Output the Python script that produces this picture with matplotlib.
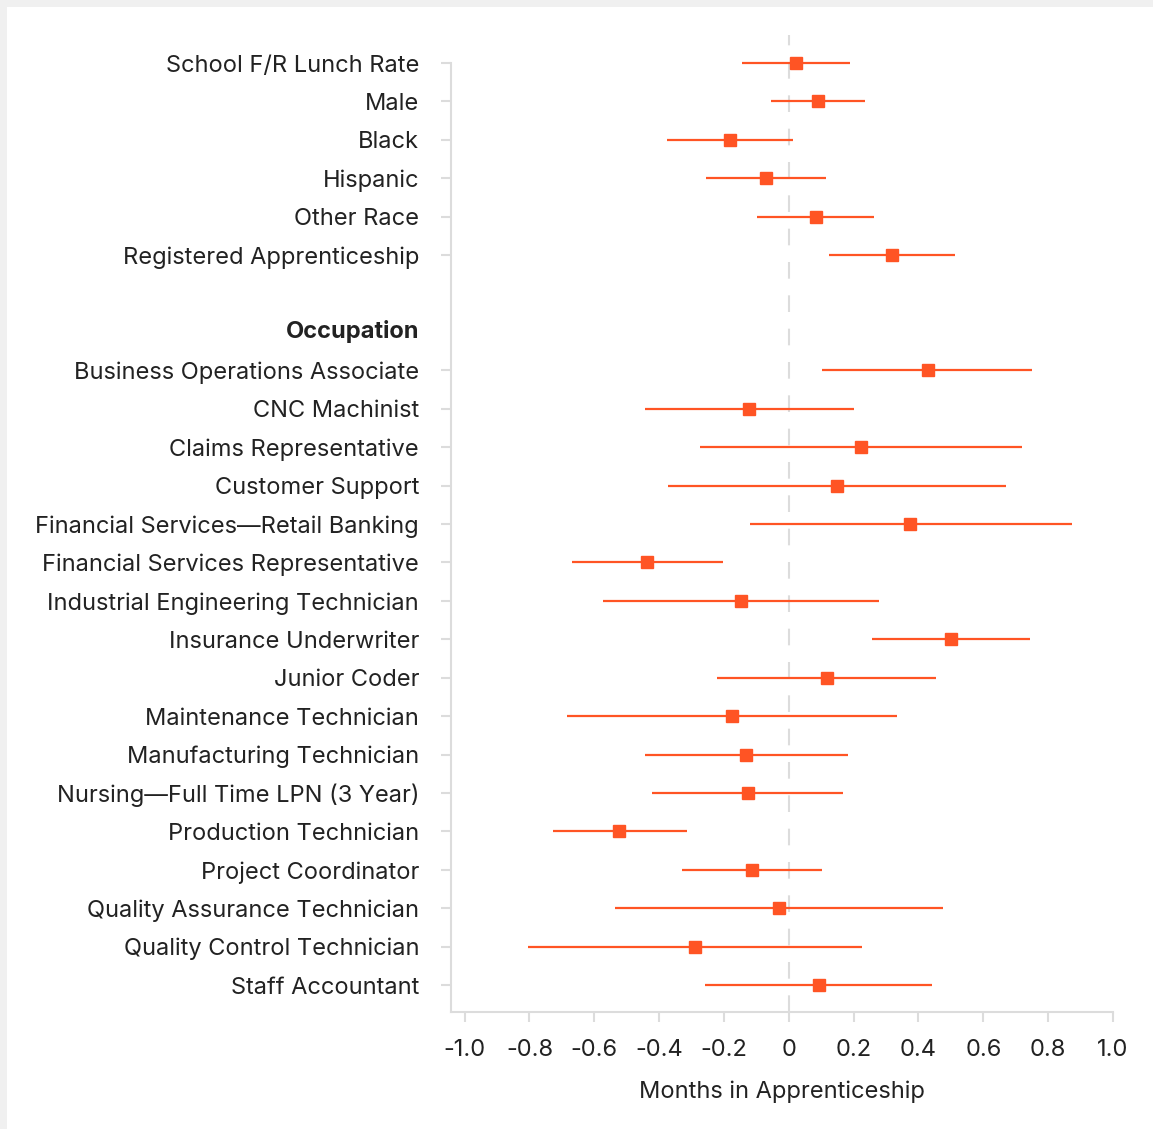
import matplotlib
matplotlib.use("Agg")
import matplotlib.pyplot as plt
import numpy as np
from matplotlib.patches import Rectangle

# ---------------------------------------------------------------------------
# Data
# ---------------------------------------------------------------------------

demo_labels = [
    "School F/R Lunch Rate",
    "Male",
    "Black",
    "Hispanic",
    "Other Race",
    "Registered Apprenticeship",
]
demo_est = [0.022, 0.089, -0.182, -0.071, 0.083, 0.317]
demo_lo = [-0.145, -0.055, -0.375, -0.254, -0.097, 0.123]
demo_hi = [0.190, 0.235, 0.014, 0.115, 0.264, 0.512]

occ_header = "Occupation"
occ_labels = [
    "Business Operations Associate",
    "CNC Machinist",
    "Claims Representative",
    "Customer Support",
    "Financial Services\u2014Retail Banking",
    "Financial Services Representative",
    "Industrial Engineering Technician",
    "Insurance Underwriter",
    "Junior Coder",
    "Maintenance Technician",
    "Manufacturing Technician",
    "Nursing\u2014Full Time LPN (3 Year)",
    "Production Technician",
    "Project Coordinator",
    "Quality Assurance Technician",
    "Quality Control Technician",
    "Staff Accountant",
]
occ_est = [0.429, -0.123, 0.222, 0.148, 0.375, -0.436, -0.147, 0.499, 0.118,
           -0.175, -0.132, -0.126, -0.523, -0.113, -0.031, -0.289, 0.092]
occ_lo = [0.103, -0.445, -0.273, -0.373, -0.121, -0.670, -0.573, 0.258, -0.222,
          -0.684, -0.444, -0.421, -0.727, -0.329, -0.537, -0.806, -0.257]
occ_hi = [0.751, 0.202, 0.718, 0.669, 0.872, -0.204, 0.278, 0.743, 0.455,
          0.333, 0.182, 0.167, -0.315, 0.103, 0.476, 0.226, 0.441]

x_ticks = [-1.0, -0.8, -0.6, -0.4, -0.2, 0, 0.2, 0.4, 0.6, 0.8, 1.0]
x_tick_labels = ["-1.0", "-0.8", "-0.6", "-0.4", "-0.2", "0",
                 "0.2", "0.4", "0.6", "0.8", "1.0"]

ORANGE = "#ff5424"
GREY = "#dcdcdc"
TEXT = "#222222"
FS = 17

plt.rcParams.update({
    "font.family": ["Inter", "DejaVu Sans"],
    "font.size": FS,
    "text.color": TEXT,
    "xtick.color": GREY,
    "ytick.color": GREY,
    "xtick.labelcolor": TEXT,
    "ytick.labelcolor": TEXT,
})

# ---------------------------------------------------------------------------
# Layout of rows: demographics, blank row, header, occupations
# ---------------------------------------------------------------------------

n_demo = len(demo_labels)
demo_pos = np.arange(n_demo)
header_pos = n_demo + 1
occ_pos = np.arange(len(occ_labels)) + header_pos + 1
n_rows = occ_pos[-1] + 1

pos = np.concatenate([demo_pos, occ_pos])
est = np.array(demo_est + occ_est)
lo = np.array(demo_lo + occ_lo)
hi = np.array(demo_hi + occ_hi)
labels = demo_labels + occ_labels

W, H = 1153, 1129
fig = plt.figure(figsize=(W / 100, H / 100), dpi=100, facecolor="#f0f0f0")
fig.patches.append(Rectangle((7 / W, 0), 1, 1 - 7 / H, transform=fig.transFigure,
                             facecolor="white", edgecolor="none", zorder=-10))

ax_left, ax_right = 451 / W, 1113 / W
ax_top, ax_bottom = 1 - 35 / H, 1 - 1012 / H
ax = fig.add_axes([ax_left, ax_bottom, ax_right - ax_left, ax_top - ax_bottom])
ax.set_facecolor("none")

ax.axvline(0, color=GREY, lw=1.5, linestyle=(0, (8, 8)), zorder=1)

ax.errorbar(est, pos, xerr=[est - lo, hi - est], fmt="s", color=ORANGE,
            ecolor=ORANGE, elinewidth=1.6, markersize=8, capsize=0, zorder=3)

ax.set_xlim(-1.042, 1.0)
ax.set_ylim(n_rows - 1 + 0.70, -0.73)

ax.set_xticks(x_ticks)
ax.set_xticklabels(x_tick_labels)
ax.set_yticks(pos)
ax.set_yticklabels(labels)

# header sits where the tick labels end (no tick mark for it)
header_x = (419 - 451) / (ax_right - ax_left) / W
ax.text(header_x, header_pos, occ_header, transform=ax.get_yaxis_transform(),
        ha="right", va="center", fontsize=FS, fontweight="bold", color=TEXT)

ax.tick_params(axis="x", length=7.2, width=1.5, pad=12, labelsize=FS)
ax.tick_params(axis="y", length=7.2, width=1.5, pad=15.8, labelsize=FS)

for side in ("top", "right"):
    ax.spines[side].set_visible(False)
for side in ("left", "bottom"):
    ax.spines[side].set_color(GREY)
    ax.spines[side].set_linewidth(1.5)
ax.spines["left"].set_bounds(0, n_rows - 1 + 0.70)

ax.set_xlabel("Months in Apprenticeship", fontsize=FS, labelpad=14, color=TEXT)

fig.savefig("out.png", dpi=100, facecolor=fig.get_facecolor())
